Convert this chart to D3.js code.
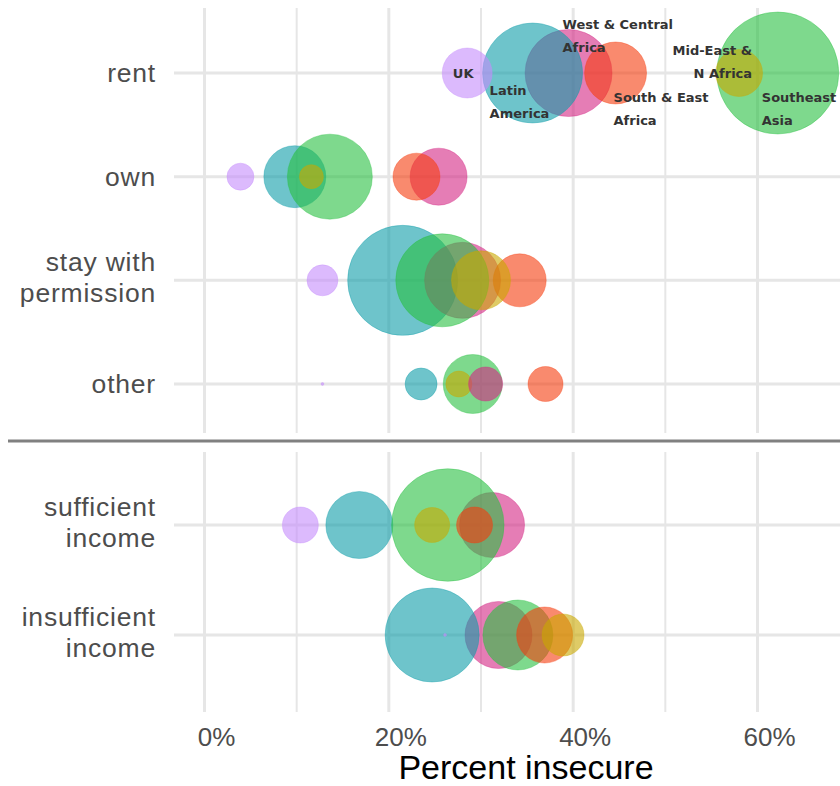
<!DOCTYPE html>
<html><head><meta charset="utf-8">
<script src="https://cdn.jsdelivr.net/npm/d3@7"></script>
<style>body{margin:0;background:#fff}svg{display:block}</style>
</head><body><svg id="c" width="840" height="786"></svg>
<script>
// ---- data ----
const regions = ["Latin America","West & Central Africa","Southeast Asia","South & East Africa","Mid-East & N Africa","UK"];
const regionColors = ["#0D9DA8","#D42684","#28C041","#F53C0D","#C9A800","#C58CFC"];
const topRows = ["rent","own","stay with permission","other"];
const bottomRows = ["sufficient income","insufficient income"];
const rowLabelLines = {
  "rent":["rent"], "own":["own"], "stay with permission":["stay with","permission"], "other":["other"],
  "sufficient income":["sufficient","income"], "insufficient income":["insufficient","income"]
};
// [region, percent insecure, sample size] in drawing order
const rent = [["Southeast Asia",62.2,1860],["West & Central Africa",39.5,946],["Latin America",35.6,1250],["UK",28.5,312],["South & East Africa",44.6,480],["Mid-East & N Africa",58.0,276]];
const own = [["Latin America",9.8,480],["Southeast Asia",13.6,903],["Mid-East & N Africa",11.6,72],["UK",3.9,91],["West & Central Africa",25.4,406],["South & East Africa",23.0,276]];
const stay = [["Latin America",21.5,1512],["West & Central Africa",28.0,722],["Southeast Asia",25.8,1081],["South & East Africa",34.2,351],["Mid-East & N Africa",30.0,435],["UK",12.8,120]];
const other = [["Southeast Asia",29.1,435],["Latin America",23.5,128],["Mid-East & N Africa",27.6,85],["West & Central Africa",30.5,145],["South & East Africa",37.0,153],["UK",12.8,1]];
const sufficient = [["Latin America",16.8,561],["West & Central Africa",31.2,528],["Southeast Asia",26.4,1582],["Mid-East & N Africa",24.7,153],["South & East Africa",29.3,162],["UK",10.4,162]];
const insufficient = [["West & Central Africa",31.9,561],["Latin America",24.7,1105],["Southeast Asia",34.0,612],["South & East Africa",36.9,392],["Mid-East & N Africa",38.9,220],["UK",26.1,1]];
const rowData = {"rent":rent,"own":own,"stay with permission":stay,"other":other,"sufficient income":sufficient,"insufficient income":insufficient};
const gridTicks = [0,10,20,30,40,50,60];
const labelTicks = [0,20,40,60];
const xTitle = "Percent insecure";
// label placement for the rent row (offsets from circle centre)
const labelRow = "rent";
const labelPlacement = {
  "UK":{dx:-4,dy:0,anchor:"middle"},
  "Latin America":{dx:-43,dy:17,anchor:"start"},
  "West & Central Africa":{dx:-6,dy:-49,anchor:"start"},
  "South & East Africa":{dx:-2,dy:24,anchor:"start"},
  "Mid-East & N Africa":{dx:13,dy:-23,anchor:"end"},
  "Southeast Asia":{dx:-16,dy:24,anchor:"start"}
};
const labelLines = {"UK":["UK"],"Latin America":["Latin","America"],"West & Central Africa":["West & Central","Africa"],
  "South & East Africa":["South & East","Africa"],"Mid-East & N Africa":["Mid-East &","N Africa"],"Southeast Asia":["Southeast","Asia"]};

// ---- drawing ----
const svg = d3.select("#c");
const x = d3.scaleLinear().domain([0,60]).range([204.5,757.5]);
const color = d3.scaleOrdinal().domain(regions).range(regionColors);
const r = d3.scaleSqrt().domain([0,1860]).range([0,61]);
const panelLeft = 174, panelRight = 840;
const panels = [
  {rows:topRows, y:d3.scalePoint().domain(topRows).range([73,384]), top:8, bottom:433},
  {rows:bottomRows, y:d3.scalePoint().domain(bottomRows).range([525,635]), top:452, bottom:712}
];
const font = "'Liberation Sans', Arial, sans-serif";

panels.forEach(p=>{
  const g = svg.append("g");
  g.selectAll("line.v").data(gridTicks).enter().append("line")
    .attr("x1",d=>x(d)).attr("x2",d=>x(d)).attr("y1",p.top).attr("y2",p.bottom)
    .attr("stroke","#e6e6e6").attr("stroke-width",d=>d%20===0?3:2);
  g.selectAll("line.h").data(p.rows).enter().append("line")
    .attr("x1",panelLeft).attr("x2",panelRight).attr("y1",d=>p.y(d)).attr("y2",d=>p.y(d))
    .attr("stroke","#e6e6e6").attr("stroke-width",3);
  p.rows.forEach(row=>{
    const lines = rowLabelLines[row];
    const lh = 31;
    const t = g.append("text").attr("text-anchor","end").attr("x",156)
      .attr("font-family",font).attr("font-size",26.5).attr("letter-spacing","0.8px").attr("fill","#4d4d4d");
    lines.forEach((ln,i)=>{
      t.append("tspan").attr("x",156)
        .attr("y",p.y(row) + 9 + (i-(lines.length-1)/2)*lh - (lines.length>1?3:0)).text(ln);
    });
  });
  p.rows.forEach(row=>{
    g.append("g").selectAll("circle").data(rowData[row]).enter().append("circle")
      .attr("cx",d=>x(d[1])).attr("cy",p.y(row)).attr("r",d=>r(d[2]))
      .attr("fill",d=>color(d[0])).attr("fill-opacity",0.6)
      .attr("stroke",d=>color(d[0])).attr("stroke-opacity",0.35).attr("stroke-width",1);
  });
});

// labels on rent row
const lp = panels[0];
const lg = svg.append("g");
rowData[labelRow].forEach(d=>{
  const pl = labelPlacement[d[0]];
  const cx = x(d[1]) + pl.dx, cy = lp.y(labelRow) + pl.dy;
  const t = lg.append("text").attr("text-anchor",pl.anchor)
    .attr("font-family","'DejaVu Sans', Verdana, sans-serif").attr("font-weight","bold").attr("font-size",13).attr("fill","#333");
  labelLines[d[0]].forEach((ln,i)=>{
    t.append("tspan").attr("x",cx).attr("y",cy + 5 + i*23).text(ln);
  });
});

// separator
svg.append("line").attr("x1",8).attr("x2",840).attr("y1",441).attr("y2",441)
  .attr("stroke","#808080").attr("stroke-width",3);

// x tick labels
svg.append("g").selectAll("text").data(labelTicks).enter().append("text")
  .attr("x",d=>x(d)+12).attr("y",746).attr("text-anchor","middle")
  .attr("font-family",font).attr("font-size",26).attr("fill","#4d4d4d")
  .text(d=>d+"%");
// title
svg.append("text").attr("x",526).attr("y",779).attr("text-anchor","middle")
  .attr("font-family",font).attr("font-size",34).attr("fill","#000").text(xTitle);
</script></body></html>
